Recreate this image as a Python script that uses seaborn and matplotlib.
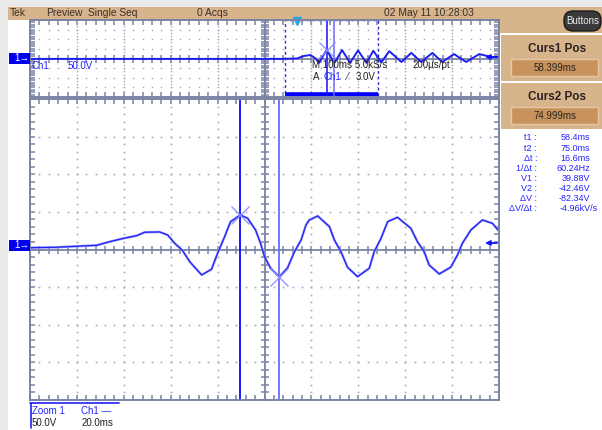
import numpy as np
import matplotlib
matplotlib.use("Agg")
import matplotlib.pyplot as plt
from matplotlib.patches import Rectangle, FancyBboxPatch
import seaborn as sns

# ── Data ─────────────────────────────────────────────────────────────
# zoomed trace: time in ms, voltage in V (20 ms/div, 50 V/div)
ZOOM_T = [-31.3, -20.7, -11.3, -2.8, 2.7, 8.7, 14.2, 17.6, 24.0, 27.4, 30.4,
          33.8, 36.8, 41.9, 46.1, 48.7, 51.7, 54.2, 58.4, 61.5, 64.9, 67.0,
          68.7, 71.3, 75.0, 78.5, 81.5, 84.3, 86.4, 87.8, 91.4, 96.4, 98.5,
          101.3, 104.1, 108.4, 113.4, 115.5, 118.4, 121.2, 125.4, 131.1, 133.9,
          136.8, 138.9, 143.2, 148.1, 151.0, 153.1, 156.7, 161.6, 165.9, 168.3]
ZOOM_V = [-3.6, -3.1, -1.7, -0.4, 4.4, 8.9, 12.4, 16.9, 17.3, 13.3, 2.3,
          -7.6, -22.2, -39.8, -32.3, -11.0, 11.0, 30.9, 39.9, 35.5, 19.9, 2.3,
          -15.5, -30.9, -42.5, -30.5, -8.9, 6.6, 26.6, 33.2, 38.5, 24.3, 6.6,
          -8.9, -29.6, -42.1, -30.9, -8.9, 8.9, 30.9, 36.8, 22.2, 4.4,
          -8.9, -26.6, -38.5, -29.6, -13.3, 2.3, 19.9, 33.2, 28.8, 19.9]

# preview trace: time in ms (100 ms/div), voltage in V
OVER_T = [-574, -40, -5, 10, 24, 35, 42, 58.4, 75, 91.4, 108.4, 125.4, 143.2,
          158, 175, 192, 218, 239, 260, 284, 305, 330, 356, 384, 409, 426]
OVER_V = [-2, -2, 0, 13, 18, 0, -23, 44, -23, 44, -23, 42, -22,
          40, -20, 38, -18, 29, -18, 29, -18, 23, -18, 23, 8, 8]

CURS_T = [58.399, 74.999]
CURS_V = [39.88, -42.46]
CURS_POS = ["58.399ms", "74.999ms"]

HEADER_TEXT = ["Tek", "Preview", "Single Seq", "0 Acqs", "02 May 11 10:28:03"]
READ_LABELS = ["t1 :", "t2 :", "\u0394t :", "1/\u0394t :", "V1 :", "V2 :",
               "\u0394V :", "\u0394V/\u0394t :"]
READ_VALUES = ["58.4ms", "75.0ms", "16.6ms", "60.24Hz", "39.88V", "-42.46V",
               "-82.34V", "-4.96kV/s"]

# ── Style ─────────────────────────────────────────────────────────────
W, H = 602, 430
TAN = "#d8b48c"
TAN_DARK = "#c8925c"
FRAME = "#7c84a4"
DOT = "#a4a8bc"
TRACE = "#1e1ef0"
TRACE_LIGHT = "#8c8cff"
BLUE_TXT = "#2424ff"

sns.set_theme(style="white")
plt.rcParams["font.family"] = ["Liberation Sans", "DejaVu Sans"]

fig = plt.figure(figsize=(W / 100, H / 100), dpi=100)

bg = fig.add_axes([0, 0, 1, 1], zorder=0)
bg.set_xlim(0, W); bg.set_ylim(H, 0); bg.axis("off")
top = fig.add_axes([0, 0, 1, 1], zorder=5)
top.set_xlim(0, W); top.set_ylim(H, 0); top.axis("off")
top.patch.set_alpha(0)


def rect(ax, x, y, w, h, fc, ec="none", lw=0):
    ax.add_patch(Rectangle((x, y), w, h, facecolor=fc, edgecolor=ec, lw=lw))


def graticule(ax, x0, dx, y0, dy, nx, ny, ysub, ydots, dot_ms=1.2):
    xs_major = x0 + dx * np.arange(nx + 1)
    ys_major = y0 + dy * np.arange(ny + 1)
    xs_minor = x0 + dx / 5 * np.arange(nx * 5 + 1)
    ys_minor = y0 + dy / ysub * np.arange(ny * ysub + 1)
    xs_dot = x0 + dx / 5 * np.arange(nx * 5 + 1)
    ys_dot = y0 + dy / ydots * np.arange(ny * ydots + 1)
    xc, yc = xs_major[nx // 2], ys_major[ny // 2]
    for i, xm in enumerate(xs_major[1:-1], start=1):
        if i != nx // 2:
            ax.plot(np.full(len(ys_dot), xm), ys_dot, ls="none", marker="s",
                    ms=dot_ms, mew=0, color=DOT)
    for j, ym in enumerate(ys_major[1:-1], start=1):
        if j != ny // 2:
            ax.plot(xs_dot, np.full(len(xs_dot), ym), ls="none", marker="s",
                    ms=dot_ms, mew=0, color=DOT)
    ax.axhline(yc, color=FRAME, lw=1.3)
    ax.axvline(xc, color=FRAME, lw=1.3)
    ax.plot(xs_minor, np.full(len(xs_minor), yc), ls="none", marker="|",
            ms=6, mew=1.1, color=FRAME)
    ax.plot(np.full(len(ys_minor), xc), ys_minor, ls="none", marker="_",
            ms=6, mew=1.1, color=FRAME)
    ax.set_xticks(xs_minor)
    ax.set_yticks(ys_minor)
    ax.tick_params(direction="in", length=3.5, width=1.1, color=FRAME,
                   top=True, right=True, left=True, bottom=True,
                   labelleft=False, labelbottom=False)
    for s in ax.spines.values():
        s.set_color(FRAME); s.set_linewidth(1.4)
    ax.set_xlim(xs_major[0], xs_major[-1])
    ax.set_ylim(ys_major[0], ys_major[-1])
    ax.set_xlabel(""); ax.set_ylabel("")
    ax.grid(False)


# ── Background chrome ────────────────────────────────────────────────
rect(bg, 0, 0, W, H, "white")
rect(bg, 0, 0, 8, H, "#ebebeb")
rect(bg, 0, 0, W, 7, "#ebebeb")
rect(bg, 8, 7, W - 8, 12.5, TAN)
rect(bg, 500, 7, W - 500, 26, TAN)
bg.add_patch(FancyBboxPatch((564, 11), 37, 20, boxstyle="round,pad=0,rounding_size=9",
                            facecolor="#3a3a3a", edgecolor="#1a1a1a", lw=1))
bg.text(582.5, 21, "Buttons", ha="center", va="center", fontsize=7, color="#ececec")

hx = [10, 46, 88, 197, 384]
for x, t in zip(hx, HEADER_TEXT):
    bg.text(x, 13.5, t, ha="left", va="center", fontsize=7.4, color="#3a3028")

# cursor position boxes
for k, (y0, name) in enumerate([(35, "Curs1 Pos"), (83, "Curs2 Pos")]):
    rect(bg, 501, y0, 101, 46, TAN)
    rect(bg, 511, y0 + 24, 87, 17, TAN_DARK, ec="#e6c8a4", lw=1)
    bg.text(557, y0 + 14, name, ha="center", va="center", fontsize=8.5,
            fontweight="bold", color="#2a2420")
    bg.text(555, y0 + 33, CURS_POS[k], ha="center", va="center", fontsize=7,
            color="#2a2420")

for i, (lab, val) in enumerate(zip(READ_LABELS, READ_VALUES)):
    y = 138 + i * 10.1
    bg.text(537, y, lab, ha="right", va="center", fontsize=6.5, color=BLUE_TXT)
    bg.text(598 if i == 7 else 590, y, val, ha="right", va="center",
            fontsize=6.5, color=BLUE_TXT)

# bottom readout
top.plot([30, 119], [403, 403], color="#2020f0", lw=1.2)
top.plot([31, 31], [403, 428], color="#2020f0", lw=1.2)
top.text(32, 411, "Zoom 1", ha="left", va="center", fontsize=7, color=BLUE_TXT)
top.text(81, 411, "Ch1 \u2014", ha="left", va="center", fontsize=7, color=BLUE_TXT)
top.text(32, 423, "50.0V", ha="left", va="center", fontsize=7, color="#202020")
top.text(82, 423, "20.0ms", ha="left", va="center", fontsize=7, color="#202020")

# ── Preview (overview) panel ─────────────────────────────────────────
ov = fig.add_axes([30 / W, 1 - 97 / H, 469 / W, 77 / H], zorder=1)
ov.set_facecolor("white")
graticule(ov, -574, 100, -200, 50, 10, 8, 4, 3, dot_ms=1.0)
ov.axvspan(-31.3, 168.7, ymin=0, ymax=1, facecolor="none", edgecolor="#2a2ad0",
           ls=(0, (2, 2)), lw=1.0)
ov.plot([-31.3, 168.7], [-188, -188], color="#0000ff", lw=4, solid_capstyle="butt")
sns.lineplot(x=OVER_T, y=OVER_V, ax=ov, color=TRACE, lw=1.4, sort=False, estimator=None)
ov.axvline(CURS_T[0], color="#1010ff", lw=1.1)
ov.axvline(CURS_T[1], color="#6a6aff", lw=1.1)
ov.plot(CURS_T[0], 44, "x", ms=11, mew=0.9, color="#8c8cff")
ov.plot(-5, 196, "v", ms=6, color="#20a8e8", clip_on=False)
ov.set_xlim(-574, 426); ov.set_ylim(-200, 200)

# ── Zoomed panel ─────────────────────────────────────────────────────
ax = fig.add_axes([30 / W, 1 - 400 / H, 469 / W, 301 / H], zorder=1)
ax.set_facecolor("white")
graticule(ax, -31.3, 20, -206, 50, 10, 8, 5, 5)
sns.lineplot(x=ZOOM_T, y=ZOOM_V, ax=ax, color=TRACE_LIGHT, lw=1.7, sort=False,
             estimator=None)
sns.lineplot(x=ZOOM_T, y=ZOOM_V, ax=ax, color=TRACE, lw=0.8, sort=False,
             estimator=None)
ax.axvline(CURS_T[0], color="#0a0aff", lw=1.3)
ax.axvline(CURS_T[1], color="#6a6aff", lw=1.3)
ax.plot(CURS_T, CURS_V, ls="none", marker="x", ms=13, mew=0.9, color="#8c8cff")
ax.set_xlim(-31.3, 168.7); ax.set_ylim(-206, 194)

# ── Overlay labels ───────────────────────────────────────────────────
top.text(31, 66, "Ch1", ha="left", va="center", fontsize=7, color=BLUE_TXT)
top.text(68, 66, "50.0V", ha="left", va="center", fontsize=7, color=BLUE_TXT)
top.text(312, 65.5, "M 100ms 5.0kS/s", ha="left", va="center", fontsize=7, color="#202020")
top.text(413, 65.5, "200\u00b5s/pt", ha="left", va="center", fontsize=7, color="#202020")
top.text(313, 77, "A", ha="left", va="center", fontsize=7, color="#202020")
top.text(324, 77, "Ch1", ha="left", va="center", fontsize=7, color=BLUE_TXT)
top.text(347, 77, "\u2044", ha="left", va="center", fontsize=7, color="#202020")
top.text(356, 77, "3.0V", ha="left", va="center", fontsize=7, color="#202020")

for yc in (58, 245):
    rect(top, 9, yc - 5.5, 21, 11, "#0000ee")
    top.text(14, yc, "1\u2192", ha="left", va="center", fontsize=7, color="white")
for yc in (57, 243):
    top.annotate("", xy=(485, yc), xytext=(497, yc),
                 arrowprops=dict(arrowstyle="-|>", color="#1010ff", lw=1.3,
                                 mutation_scale=7, shrinkA=0, shrinkB=0))

fig.savefig("out.png", dpi=100)
